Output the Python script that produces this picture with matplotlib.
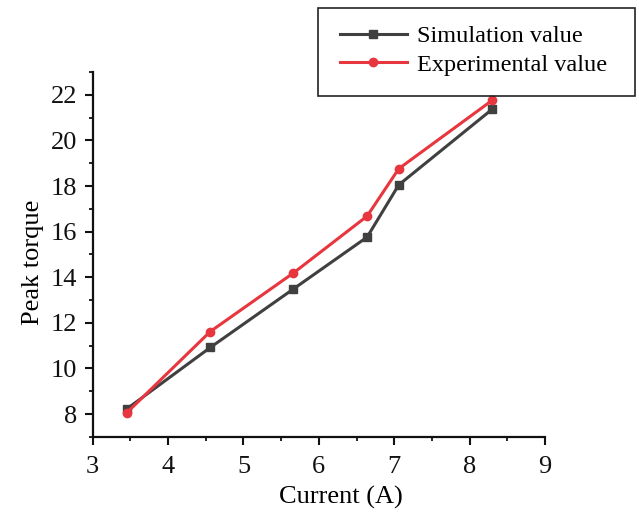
import matplotlib
matplotlib.use("Agg")
import matplotlib.pyplot as plt
from matplotlib.patches import Rectangle
from matplotlib.ticker import MultipleLocator

# Peak torque versus winding current
current = [3.45, 4.56, 5.66, 6.64, 7.06, 8.30]
simulation = [8.22, 10.92, 13.48, 15.76, 18.05, 21.37]
experimental = [8.05, 11.62, 14.18, 16.68, 18.76, 21.76]

x_ticks = [3, 4, 5, 6, 7, 8, 9]
y_ticks = [8, 10, 12, 14, 16, 18, 20, 22]

plt.rcParams["font.family"] = ["Liberation Serif", "DejaVu Serif"]

fig = plt.figure(figsize=(6.39, 5.14), dpi=100)
ax = fig.add_axes([0.145, 0.150, 0.708, 0.710])

ax.plot(current, simulation, color="#404040", lw=2.2, marker="s", ms=5.5,
        label="Simulation value", zorder=3)
ax.plot(current, experimental, color="#e8363f", lw=2.2, marker="o", ms=6,
        label="Experimental value", zorder=4)

ax.set_xlim(3, 9)
ax.set_ylim(7, 23)
ax.set_xticks(x_ticks)
ax.set_yticks(y_ticks)
ax.xaxis.set_minor_locator(MultipleLocator(0.5))
ax.yaxis.set_minor_locator(MultipleLocator(1))

for side in ("top", "right"):
    ax.spines[side].set_visible(False)
for side in ("left", "bottom"):
    ax.spines[side].set_linewidth(1.6)
    ax.spines[side].set_color("#111111")

ax.tick_params(which="major", direction="out", length=6, width=1.5,
               labelsize=19, colors="#111111", pad=5)
ax.tick_params(axis="x", which="major", pad=8)
ax.tick_params(which="minor", direction="out", length=3, width=1.3,
               colors="#111111")

ax.set_xlabel("Current (A)", fontsize=19)
ax.set_ylabel("Peak torque", fontsize=19)
ax.xaxis.set_label_coords(0.549, -0.135)
ax.yaxis.set_label_coords(-0.108, 0.479)

# legend entries without a frame; the box is drawn separately
leg = fig.legend(loc="upper left", bbox_to_anchor=(340 / 639, 1 - 25 / 514),
                 fontsize=17.5, frameon=False,
                 handlelength=2.75, handletextpad=0.42, labelspacing=0.27,
                 borderpad=0, borderaxespad=0)
fig.patches.append(Rectangle((318 / 639, 1 - 96 / 514), 317 / 639, 88 / 514,
                             transform=fig.transFigure, fill=False,
                             edgecolor="#222222", linewidth=1.2))

fig.savefig("out.png", dpi=100)
